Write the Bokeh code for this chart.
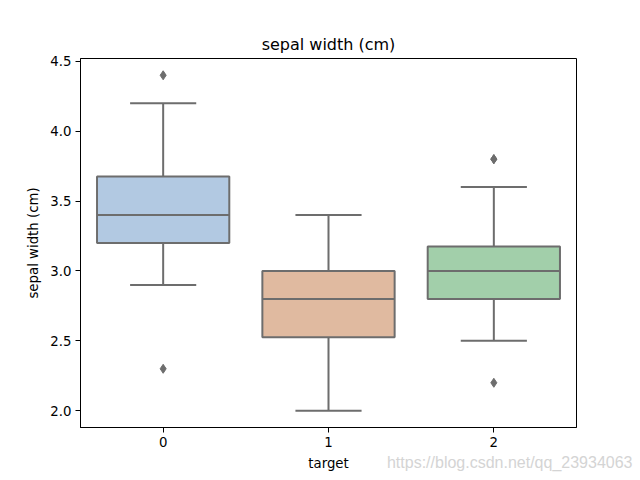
from bokeh.plotting import figure
from bokeh.models import ColumnDataSource, FixedTicker, PrintfTickFormatter, Range1d, Title
from bokeh.embed import file_html
from bokeh.resources import INLINE

# data (iris sepal width by target)
targets = [0, 1, 2]
q1 = [3.2, 2.525, 2.8]
median = [3.4, 2.8, 3.0]
q3 = [3.675, 3.0, 3.175]
whisker_low = [2.9, 2.0, 2.5]
whisker_high = [4.2, 3.4, 3.6]
outlier_target = [0, 0, 2, 2, 2]
outlier_value = [4.4, 2.3, 3.8, 3.8, 2.2]
box_colors = ["#b2c9e2", "#e0baa0", "#a2cfaa"]
y_ticks = [2.0, 2.5, 3.0, 3.5, 4.0, 4.5]

FONT = "DejaVu Sans"
GRAY = "#6d6d6d"
BOX_W = 0.8
CAP_W = 0.4

p = figure(width=640, height=480, output_backend="svg", toolbar_location=None,
           title="sepal width (cm)",
           x_range=Range1d(-0.5, 2.5), y_range=Range1d(1.88, 4.52),
           min_border_left=80, min_border_right=64, min_border_top=58, min_border_bottom=53)

p.title.align = "center"
p.title.text_font = FONT
p.title.text_font_size = "16px"
p.title.text_font_style = "normal"
p.title.text_color = "black"
p.title.offset = 0

p.outline_line_color = "black"
p.outline_line_width = 1
p.xgrid.visible = False
p.ygrid.visible = False
p.background_fill_color = "white"
p.border_fill_color = "white"

src = ColumnDataSource(dict(
    x=targets, q1=q1, med=median, q3=q3, lo=whisker_low, hi=whisker_high, color=box_colors,
    capl=[t - CAP_W / 2 for t in targets], capr=[t + CAP_W / 2 for t in targets],
    boxl=[t - BOX_W / 2 for t in targets], boxr=[t + BOX_W / 2 for t in targets],
))

# whiskers
p.segment(x0="x", y0="q3", x1="x", y1="hi", source=src, line_color=GRAY, line_width=2)
p.segment(x0="x", y0="lo", x1="x", y1="q1", source=src, line_color=GRAY, line_width=2)
# caps
p.segment(x0="capl", y0="hi", x1="capr", y1="hi", source=src, line_color=GRAY, line_width=2)
p.segment(x0="capl", y0="lo", x1="capr", y1="lo", source=src, line_color=GRAY, line_width=2)
# boxes
p.vbar(x="x", width=BOX_W, bottom="q1", top="q3", source=src,
       fill_color="color", line_color=GRAY, line_width=2)
# medians
p.segment(x0="boxl", y0="med", x1="boxr", y1="med", source=src, line_color=GRAY, line_width=2)
# outliers
p.scatter(x=outlier_target, y=outlier_value, marker="diamond", size=9,
          fill_color=GRAY, line_color=GRAY)

# axes
p.xaxis.ticker = FixedTicker(ticks=targets)
p.yaxis.ticker = FixedTicker(ticks=y_ticks)
p.yaxis.formatter = PrintfTickFormatter(format="%.1f")
p.xaxis.axis_label = "target"
p.yaxis.axis_label = "sepal width (cm)"
for ax in (p.xaxis, p.yaxis):
    ax.minor_tick_line_color = None
    ax.major_tick_in = 0
    ax.major_tick_out = 5
    ax.major_tick_line_color = "black"
    ax.axis_line_color = "black"
    ax.major_label_standoff = 4
    ax.major_label_text_font = FONT
    ax.major_label_text_font_size = "13.3px"
    ax.major_label_text_color = "black"
    ax.axis_label_text_font = FONT
    ax.axis_label_text_font_size = "13.3px"
    ax.axis_label_text_font_style = "normal"
    ax.axis_label_text_color = "black"
    ax.axis_label_standoff = 6

# watermark, as a side-panel title pulled up onto the x-label line
p.add_layout(Title(text="https://blog.csdn.net/qq_23934063", align="right",
                   vertical_align="top", offset=-56, standoff=-40,
                   text_font="Liberation Sans", text_font_size="16px",
                   text_font_style="normal", text_color="#d4d4d4"), "below")

open("out.html", "w").write(file_html(p, INLINE))
